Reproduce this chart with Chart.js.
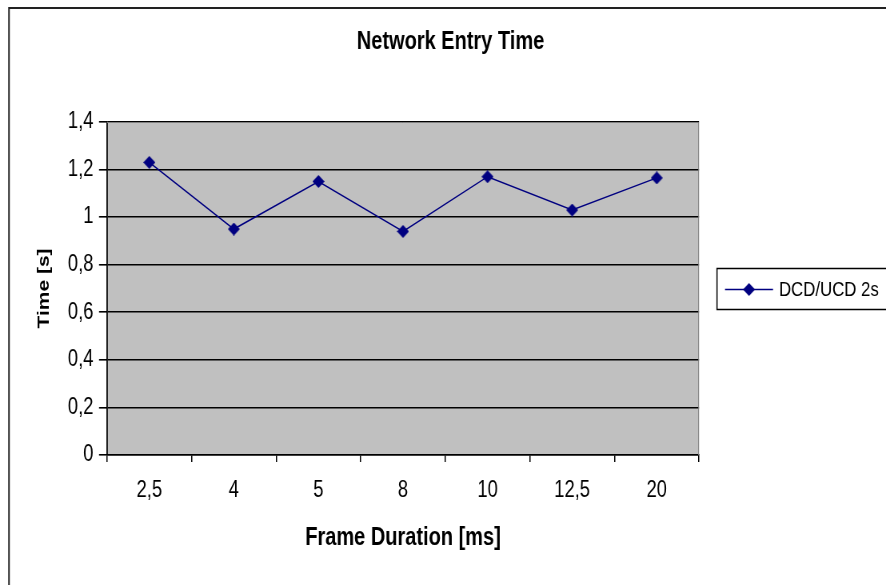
<!DOCTYPE html>
<html><head><meta charset="utf-8">
<script src="https://cdn.jsdelivr.net/npm/chart.js@4/dist/chart.umd.min.js"></script>
<style>html,body{margin:0;padding:0;background:#fff;overflow:hidden;}#c{display:block;}</style>
</head><body>
<canvas id="c" width="1108" height="585" style="width:886px;height:585px;"></canvas>
<script>
const categories = ["2,5", "4", "5", "8", "10", "12,5", "20"];
const seriesName = "DCD/UCD 2s";
const timeValues = [1.23, 0.95, 1.15, 0.94, 1.17, 1.03, 1.165];
const yTicks = [0, 0.2, 0.4, 0.6, 0.8, 1, 1.2, 1.4];
const chartTitle = "Network Entry Time";
const xTitle = "Frame Duration [ms]";
const yTitle = "Time [s]";

// horizontal squeeze factor (canvas is drawn wider, displayed at 886px)
const K = 1108 / 886;
const FONT = "'Liberation Sans', Arial, sans-serif";

// diamond marker that looks square on screen after the squeeze
function makeDiamond(wScreen, h, color) {
  const c = document.createElement('canvas');
  const w = Math.round(wScreen * K);
  c.width = w; c.height = h;
  const g = c.getContext('2d');
  g.fillStyle = color;
  g.beginPath();
  g.moveTo(w / 2, 0); g.lineTo(w, h / 2); g.lineTo(w / 2, h); g.lineTo(0, h / 2); g.closePath();
  g.fill();
  return c;
}
const diamond = makeDiamond(12, 13, '#000080');

const decor = {
  id: 'decor',
  beforeDraw(chart) {
    const ctx = chart.ctx;
    const a = chart.chartArea;
    ctx.save();
    ctx.fillStyle = '#fff';
    ctx.fillRect(0, 0, chart.width, chart.height);
    ctx.fillStyle = '#c0c0c0';
    ctx.fillRect(a.left, a.top, a.right - a.left, a.bottom - a.top);
    ctx.restore();
  },
  afterDraw(chart) {
    const ctx = chart.ctx;
    const a = chart.chartArea;
    ctx.save();
    // outer border
    ctx.strokeStyle = '#222';
    ctx.lineWidth = 2;
    ctx.beginPath();
    ctx.moveTo(9 * K, 600); ctx.lineTo(9 * K, 8); ctx.lineTo(1200, 8);
    ctx.stroke();
    // plot border (top/right)
    ctx.strokeStyle = '#808080';
    ctx.lineWidth = 1;
    ctx.beginPath();
    ctx.moveTo(a.left, a.top + 0.5); ctx.lineTo(a.right - 0.5, a.top + 0.5); ctx.lineTo(a.right - 0.5, a.bottom);
    ctx.stroke();
    // title
    ctx.fillStyle = '#000';
    ctx.textAlign = 'center';
    ctx.textBaseline = 'middle';
    ctx.font = 'bold 25px ' + FONT;
    ctx.fillText(chartTitle, 450.5 * K, 42);
    // legend
    ctx.strokeStyle = '#000';
    ctx.lineWidth = 1.5;
    ctx.strokeRect(717 * K, 268.5, 250, 41);
    ctx.strokeStyle = '#000080';
    ctx.lineWidth = 1.5;
    ctx.beginPath(); ctx.moveTo(725 * K, 289.5); ctx.lineTo(773 * K, 289.5); ctx.stroke();
    ctx.drawImage(diamond, 749 * K - diamond.width / 2, 289.5 - diamond.height / 2);
    ctx.fillStyle = '#000';
    ctx.textAlign = 'left';
    ctx.font = '21px ' + FONT;
    ctx.fillText(seriesName, 779 * K, 290);
    ctx.restore();
  }
};

new Chart(document.getElementById('c'), {
  type: 'line',
  data: {
    labels: categories,
    datasets: [{
      label: seriesName,
      data: timeValues,
      borderColor: '#000080',
      backgroundColor: '#000080',
      borderWidth: 1.5,
      pointStyle: diamond,
      pointRadius: 7,
      pointHoverRadius: 7,
      tension: 0,
      fill: false
    }]
  },
  options: {
    responsive: false,
    animation: false,
    devicePixelRatio: 1,
    layout: { padding: { left: 0, top: 122, right: 1108 - 699 * K, bottom: 0 } },
    plugins: { legend: { display: false }, title: { display: false }, tooltip: { enabled: false } },
    scales: {
      x: {
        type: 'category',
        offset: true,
        grid: { display: true, drawOnChartArea: false, offset: true, color: '#000', tickLength: 7, lineWidth: 1.5 },
        border: { display: true, color: '#000', width: 1.5 },
        ticks: { color: '#000', font: { family: FONT, size: 23 }, padding: 15, maxRotation: 0, autoSkip: false },
        title: { display: true, text: xTitle, color: '#000', font: { family: FONT, size: 25, weight: 'bold' }, padding: { top: 0, bottom: 32 } },
        afterFit(s) { s.height = 130; }
      },
      y: {
        min: 0, max: 1.4,
        afterBuildTicks(s) { s.ticks = yTicks.map(v => ({ value: v })); },
        grid: { color: '#000', lineWidth: 1.6, tickLength: 10 },
        border: { display: true, color: '#000', width: 1.8 },
        ticks: { color: '#000', font: { family: FONT, size: 23 }, padding: 7,
          callback: v => String(v).replace('.', ',') },
        title: { display: true, text: yTitle, color: '#000', font: { family: FONT, size: 21, weight: 'bold' }, padding: { top: 43, bottom: 0 } },
        afterFit(s) { s.width = 107 * K; }
      }
    }
  },
  plugins: [decor]
});
</script></body></html>
